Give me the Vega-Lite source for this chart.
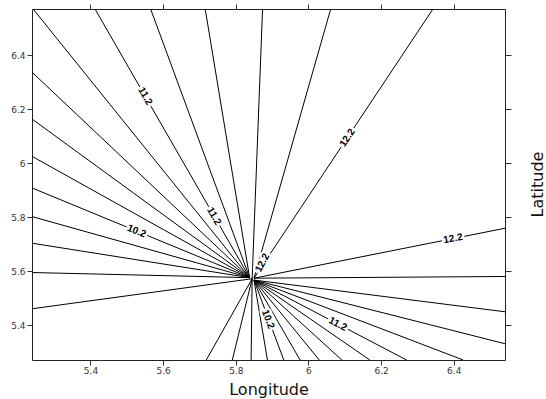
{
  "$schema": "https://vega.github.io/schema/vega-lite/v6.json",
  "width": 473,
  "height": 351,
  "autosize": {"type": "none"},
  "padding": {"left": 32, "top": 9, "right": 41, "bottom": 39},
  "background": "white",
  "config": {
    "view": {"stroke": null},
    "axis": {
      "labelFont": "DejaVu Sans",
      "labelFontSize": 9,
      "labelColor": "#333333",
      "titleFont": "DejaVu Sans",
      "titleFontSize": 16,
      "titleFontWeight": "normal",
      "titleColor": "#111111",
      "domainColor": "#222222",
      "tickColor": "#333333",
      "grid": false
    }
  },
  "datasets": {
    "lines": [
      {"id": "T1", "pt": 0, "lon": 5.838, "lat": 5.577}, {"id": "T1", "pt": 1, "lon": 5.242, "lat": 6.572},
      {"id": "T2", "pt": 0, "lon": 5.838, "lat": 5.577}, {"id": "T2", "pt": 1, "lon": 5.4124, "lat": 6.572},
      {"id": "T3", "pt": 0, "lon": 5.838, "lat": 5.577}, {"id": "T3", "pt": 1, "lon": 5.5656, "lat": 6.572},
      {"id": "T4", "pt": 0, "lon": 5.838, "lat": 5.577}, {"id": "T4", "pt": 1, "lon": 5.7158, "lat": 6.572},
      {"id": "T5", "pt": 0, "lon": 5.845, "lat": 5.573}, {"id": "T5", "pt": 1, "lon": 5.8737, "lat": 6.572},
      {"id": "T6", "pt": 0, "lon": 5.85, "lat": 5.575}, {"id": "T6", "pt": 1, "lon": 6.0612, "lat": 6.572},
      {"id": "T7", "pt": 0, "lon": 5.85, "lat": 5.575}, {"id": "T7", "pt": 1, "lon": 6.3426, "lat": 6.572},
      {"id": "L1", "pt": 0, "lon": 5.838, "lat": 5.577}, {"id": "L1", "pt": 1, "lon": 5.239, "lat": 6.338},
      {"id": "L2", "pt": 0, "lon": 5.838, "lat": 5.577}, {"id": "L2", "pt": 1, "lon": 5.239, "lat": 6.1645},
      {"id": "L3", "pt": 0, "lon": 5.838, "lat": 5.577}, {"id": "L3", "pt": 1, "lon": 5.239, "lat": 6.0264},
      {"id": "L4", "pt": 0, "lon": 5.838, "lat": 5.577}, {"id": "L4", "pt": 1, "lon": 5.239, "lat": 5.9092},
      {"id": "L5", "pt": 0, "lon": 5.838, "lat": 5.577}, {"id": "L5", "pt": 1, "lon": 5.239, "lat": 5.8032},
      {"id": "L6", "pt": 0, "lon": 5.838, "lat": 5.577}, {"id": "L6", "pt": 1, "lon": 5.239, "lat": 5.7046},
      {"id": "L7", "pt": 0, "lon": 5.838, "lat": 5.577}, {"id": "L7", "pt": 1, "lon": 5.239, "lat": 5.596},
      {"id": "L8", "pt": 0, "lon": 5.845, "lat": 5.573}, {"id": "L8", "pt": 1, "lon": 5.239, "lat": 5.4617},
      {"id": "R1", "pt": 0, "lon": 5.85, "lat": 5.575}, {"id": "R1", "pt": 1, "lon": 6.541, "lat": 5.76},
      {"id": "R2", "pt": 0, "lon": 5.85, "lat": 5.575}, {"id": "R2", "pt": 1, "lon": 6.541, "lat": 5.5813},
      {"id": "R3", "pt": 0, "lon": 5.85, "lat": 5.568}, {"id": "R3", "pt": 1, "lon": 6.541, "lat": 5.4506},
      {"id": "R4", "pt": 0, "lon": 5.85, "lat": 5.568}, {"id": "R4", "pt": 1, "lon": 6.541, "lat": 5.3322},
      {"id": "B1", "pt": 0, "lon": 5.845, "lat": 5.573}, {"id": "B1", "pt": 1, "lon": 5.7187, "lat": 5.272},
      {"id": "B2", "pt": 0, "lon": 5.845, "lat": 5.573}, {"id": "B2", "pt": 1, "lon": 5.7904, "lat": 5.272},
      {"id": "B3", "pt": 0, "lon": 5.845, "lat": 5.573}, {"id": "B3", "pt": 1, "lon": 5.8421, "lat": 5.272},
      {"id": "B4", "pt": 0, "lon": 5.85, "lat": 5.568}, {"id": "B4", "pt": 1, "lon": 5.8871, "lat": 5.272},
      {"id": "B5", "pt": 0, "lon": 5.85, "lat": 5.568}, {"id": "B5", "pt": 1, "lon": 5.9321, "lat": 5.272},
      {"id": "B6", "pt": 0, "lon": 5.85, "lat": 5.568}, {"id": "B6", "pt": 1, "lon": 5.977, "lat": 5.272},
      {"id": "B7", "pt": 0, "lon": 5.85, "lat": 5.568}, {"id": "B7", "pt": 1, "lon": 6.0297, "lat": 5.272},
      {"id": "B8", "pt": 0, "lon": 5.85, "lat": 5.568}, {"id": "B8", "pt": 1, "lon": 6.0919, "lat": 5.272},
      {"id": "B9", "pt": 0, "lon": 5.85, "lat": 5.568}, {"id": "B9", "pt": 1, "lon": 6.169, "lat": 5.272},
      {"id": "B10", "pt": 0, "lon": 5.85, "lat": 5.568}, {"id": "B10", "pt": 1, "lon": 6.27, "lat": 5.272},
      {"id": "B11", "pt": 0, "lon": 5.85, "lat": 5.568}, {"id": "B11", "pt": 1, "lon": 6.426, "lat": 5.272}
    ],
    "labels": [
      {"label": "11.2", "lon": 5.5506, "lat": 6.249, "angle": 60},
      {"label": "11.2", "lon": 5.74, "lat": 5.805, "angle": 60},
      {"label": "10.2", "lon": 5.527, "lat": 5.749, "angle": 22.5},
      {"label": "12.2", "lon": 6.107, "lat": 6.095, "angle": -56.5},
      {"label": "12.2", "lon": 5.873, "lat": 5.632, "angle": -62},
      {"label": "12.2", "lon": 6.398, "lat": 5.722, "angle": -11.2},
      {"label": "10.2", "lon": 5.889, "lat": 5.423, "angle": 69},
      {"label": "11.2", "lon": 6.081, "lat": 5.405, "angle": 27.7}
    ]
  },
  "resolve": {"axis": {"x": "independent", "y": "independent"}},
  "layer": [
    {
      "data": {"name": "lines"},
      "mark": {"type": "line", "clip": true, "color": "black", "strokeWidth": 1},
      "encoding": {
        "x": {
          "field": "lon", "type": "quantitative",
          "scale": {"domain": [5.239, 6.541], "nice": false, "zero": false},
          "axis": {"orient": "bottom", "values": [5.4, 5.6, 5.8, 6, 6.2, 6.4], "format": ".1~f", "tickSize": 5, "labelPadding": 1, "title": "Longitude", "titleY": 29, "titleBaseline": "middle"}
        },
        "y": {
          "field": "lat", "type": "quantitative",
          "scale": {"domain": [5.272, 6.572], "nice": false, "zero": false},
          "axis": {"orient": "left", "values": [5.4, 5.6, 5.8, 6, 6.2, 6.4], "format": ".1~f", "tickSize": 5, "labelPadding": 2, "title": null}
        },
        "detail": {"field": "id"},
        "order": {"field": "pt", "type": "quantitative"}
      }
    },
    {
      "data": {"name": "labels"},
      "mark": {"type": "text", "font": "Liberation Sans", "fontWeight": "bold", "fontSize": 10, "fill": "white", "stroke": "white", "strokeWidth": 5, "strokeJoin": "round", "align": "center", "baseline": "middle"},
      "encoding": {
        "x": {"field": "lon", "type": "quantitative", "axis": null},
        "y": {"field": "lat", "type": "quantitative", "axis": null},
        "text": {"field": "label"},
        "angle": {"field": "angle", "type": "quantitative", "scale": null}
      }
    },
    {
      "data": {"name": "labels"},
      "mark": {"type": "text", "font": "Liberation Sans", "fontWeight": "bold", "fontSize": 10, "fill": "black", "align": "center", "baseline": "middle"},
      "encoding": {
        "x": {"field": "lon", "type": "quantitative", "axis": null},
        "y": {"field": "lat", "type": "quantitative", "axis": null},
        "text": {"field": "label"},
        "angle": {"field": "angle", "type": "quantitative", "scale": null}
      }
    },
    {
      "data": {"name": "labels"},
      "mark": {"type": "point", "opacity": 0},
      "encoding": {
        "x": {"field": "lon", "type": "quantitative", "axis": {"orient": "top", "values": [5.4, 5.6, 5.8, 6, 6.2, 6.4], "labels": false, "tickSize": 5, "title": null}},
        "y": {"field": "lat", "type": "quantitative", "axis": {"orient": "right", "values": [5.4, 5.6, 5.8, 6, 6.2, 6.4], "labels": false, "tickSize": 6, "title": "Latitude", "titleX": 32, "titleY": 175, "titleAngle": 270, "titleAlign": "center", "titleBaseline": "middle"}}
      }
    }
  ]
}
